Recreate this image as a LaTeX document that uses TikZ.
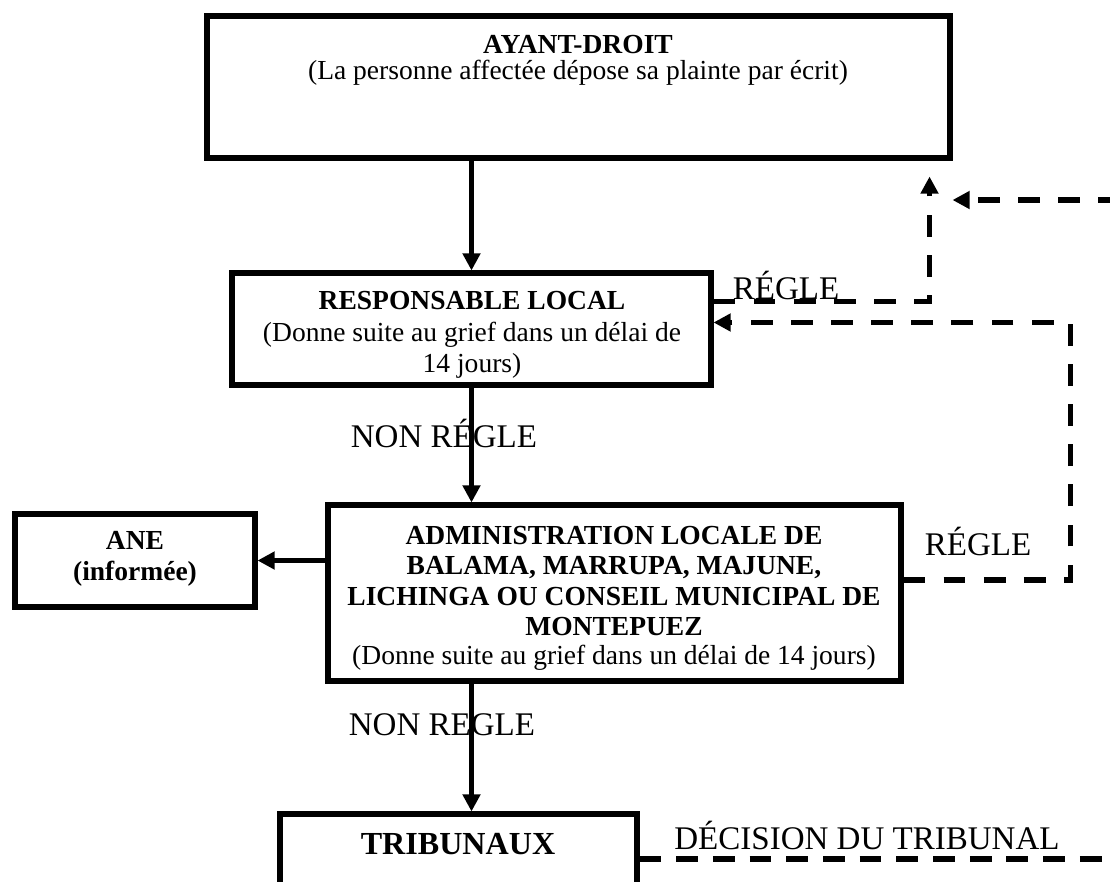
\documentclass[tikz,border=0pt]{standalone}
\usepackage{fontspec}
\setmainfont{Liberation Serif}
\usetikzlibrary{arrows.meta, positioning, calc, fit}

\begin{document}
\begin{tikzpicture}[
    x=0.436pt, y=-0.436pt,
    font=\fontsize{12}{11.5}\selectfont,
    box/.style={draw, line width=2.2pt, inner sep=0pt},
    txt/.style={align=center, inner sep=0pt},
    lbl/.style={font=\fontsize{14.4}{16}\selectfont, inner sep=0pt},
    flow/.style={-{Triangle[length=7.5pt, width=7.5pt]}, line width=2.2pt},
    dflow/.style={-{Triangle[length=7.5pt, width=7.5pt]}, line width=2.4pt, dash pattern=on 9.5pt off 8pt},
    dline/.style={line width=2.2pt, dash pattern=on 9.5pt off 6.5pt},
]
\clip (0,0) rectangle (1110,881);

% ================= boites =================
\node[box, fit={(207,16) (950,158)}] (ayant) {};
\node[box, fit={(232,273) (711,385)}] (resp) {};
\node[box, fit={(328,505) (901,681)}] (admin) {};
\node[box, fit={(15,514) (255,607)}] (ane) {};
\node[box, fit={(280,814) (637,910)}] (trib) {};

% ================= textes =================
\node[txt] (ayant-t) at (578,60) {\textbf{AYANT-DROIT}\\(La personne affectée dépose sa plainte par écrit)};
\node[txt, font=\fontsize{12}{13.7}\selectfont] (resp-t) at (472,335) {\textbf{RESPONSABLE LOCAL}\\(Donne suite au grief dans un délai de\\14 jours)};
\node[txt, font=\fontsize{12}{13.3}\selectfont] (admin-t) at (614,598)
    {\textbf{ADMINISTRATION LOCALE DE}\\\textbf{BALAMA, MARRUPA, MAJUNE,}\\
     \textbf{LICHINGA OU CONSEIL MUNICIPAL DE}\\\textbf{MONTEPUEZ}\\[-1pt]
     (Donne suite au grief dans un délai de 14 jours)};
\node[txt, font=\bfseries\fontsize{12}{13.5}\selectfont] (ane-t) at (135,559) {ANE\\(informée)};
\node[txt, font=\bfseries\fontsize{14}{16}\selectfont] (trib-t) at (458,844) {TRIBUNAUX};

% ================= etiquettes =================
\node[lbl] (regle1) at (786,285) {RÉGLE};
\node[lbl] (nonregle1) at (444,433) {NON RÉGLE};
\node[lbl] (regle2) at (978,541) {RÉGLE};
\node[lbl] (nonregle2) at (442,725) {NON REGLE};
\node[lbl] (decision) at (867,835) {DÉCISION DU TRIBUNAL};

% ================= fleches =================
\draw[flow] (ayant.south -| resp.north) -- (resp.north);
\draw[flow] (resp.south) -- (admin.north -| resp.south);
\draw[flow] (admin.south -| resp.south) -- (trib.north -| resp.south);
\draw[flow] (admin.west |- ane.east) -- (ane.east);

% retours en pointilles
\draw[dflow] ($(resp.north east)+(0,31)$) -| ($(ayant.south east)+(-23,16)$);
\draw[dflow] ($(admin.east)+(0,-13)$) -- ++(167,0) |- ($(resp.north east)+(0,52)$);
\coordinate (hautdroite) at (1120,200);
\draw[dflow] (hautdroite) -- (hautdroite -| ayant.east);
\coordinate (basdroite) at (1120,859);
\draw[dline] (trib.east |- basdroite) -- (basdroite);

\end{tikzpicture}
\end{document}
